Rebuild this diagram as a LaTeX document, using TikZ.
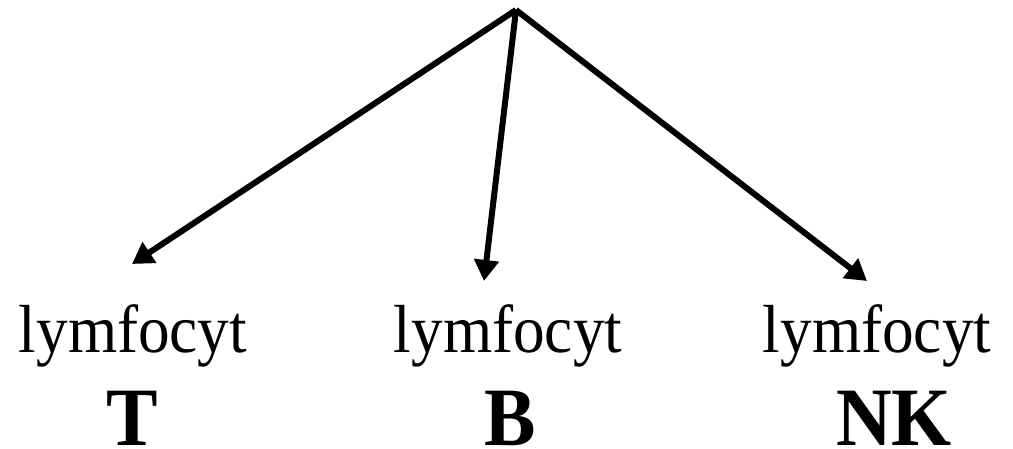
\documentclass[tikz,border=0pt]{standalone}
\usepackage{fontspec}
\setmainfont{Liberation Serif}
\usetikzlibrary{arrows.meta}
\tikzset{
  conn/.style={line width=6pt,-{Triangle[length=21pt,width=24pt]}},
  word/.style={anchor=base,inner sep=0pt,font=\fontsize{68}{80}\selectfont},
  letter/.style={anchor=base,inner sep=0pt,font=\fontsize{83}{96}\selectfont\bfseries}
}
\begin{document}
\begin{tikzpicture}[x=1pt,y=1pt]
\useasboundingbox (0,0) rectangle (1013,448);
\coordinate (apex) at (516,438);
\coordinate (tipT) at (132,184);
\coordinate (tipB) at (484,167);
\coordinate (tipNK) at (867,167);
\draw[conn] (apex) -- (tipT);
\draw[conn] (apex) -- (tipB);
\draw[conn] (apex) -- (tipNK);
\node[word] (lT) at (133,96) {\scalebox{0.93}[1]{lymfocyt}};
\node[word] (lB) at (508,96) {\scalebox{0.93}[1]{lymfocyt}};
\node[word] (lNK) at (877,96) {\scalebox{0.93}[1]{lymfocyt}};
\node[letter] (T) at (132,3) {\scalebox{0.93}[1]{T}};
\node[letter] (B) at (510,3) {\scalebox{0.93}[1]{B}};
\node[letter] (NK) at (894,3) {\scalebox{0.93}[1]{NK}};
\end{tikzpicture}
\end{document}
